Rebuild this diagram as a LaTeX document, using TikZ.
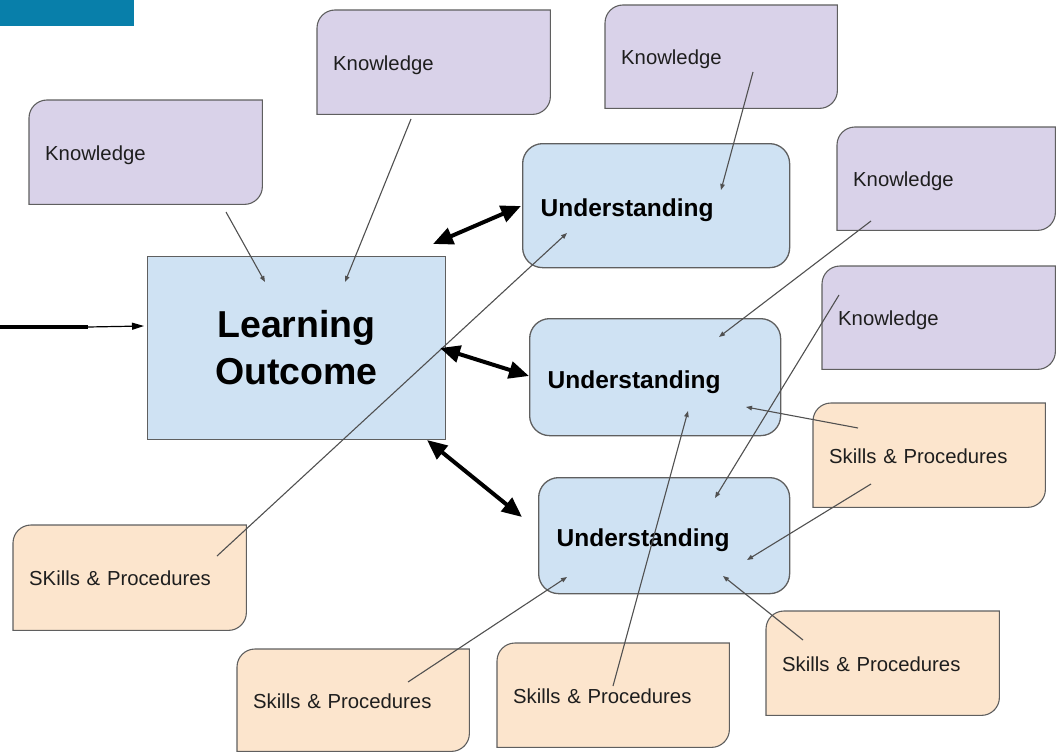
\documentclass[tikz,border=0pt]{standalone}
\usepackage{fontspec}
\setmainfont{Liberation Sans}
\usetikzlibrary{arrows.meta,backgrounds}

\definecolor{barblue}{RGB}{8,127,170}
\definecolor{knowfill}{HTML}{D9D2E9}
\definecolor{skillfill}{HTML}{FCE5CD}
\definecolor{underfill}{HTML}{CFE2F3}
\definecolor{edgegray}{HTML}{5F5F5F}
\definecolor{linkgray}{HTML}{505050}
\definecolor{inkdark}{HTML}{1E1E1E}

\tikzset{
  % note box: #1 = text width (box width minus 32bp), #2 = box height
  tagbox/.style 2 args={anchor=north west, text width=#1, minimum height=#2,
    inner xsep=16bp, inner ysep=0pt, align=left, text=inkdark,
    text height=16bp, text depth=0pt,
    font=\fontsize{20.3bp}{24bp}\selectfont},
  underbox/.style 2 args={anchor=north west, text width=#1, minimum height=#2,
    inner xsep=18bp, inner ysep=0pt, align=left, text=black,
    text height=22bp, text depth=0pt,
    rounded corners=20bp, draw=edgegray, fill=underfill, line width=1.3bp,
    font=\fontsize{24.5bp}{29bp}\selectfont\bfseries},
  outcomebox/.style={anchor=north west, minimum width=298bp, minimum height=183bp,
    inner sep=0pt, align=center, draw=edgegray, fill=underfill, line width=1.1bp,
    font=\fontsize{37.5bp}{47bp}\selectfont\bfseries},
  link/.style={draw=linkgray, line width=1.1bp, -{Triangle[length=6bp,width=4.5bp]}},
  biarrow/.style={draw=black, line width=4bp,
    {Triangle[length=20bp,width=17bp]}-{Triangle[length=20bp,width=17bp]}},
}

% note box outline: rounded top-left and bottom-right corners
\newcommand{\notebox}[2]{%
  \path[draw=edgegray, fill=#2, line width=1.1bp]
    ([yshift=-18bp]#1.north west) arc[start angle=180, end angle=90, radius=18bp]
    -- (#1.north east) -- ([yshift=18bp]#1.south east)
    arc[start angle=0, end angle=-90, radius=18bp]
    -- (#1.south west) -- cycle;}

\begin{document}
\begin{tikzpicture}[x=1bp, y=1bp]
\path[use as bounding box] (0,0) rectangle (1056,-752);

% header tab
\node[fill=barblue, anchor=north west, minimum width=134bp, minimum height=26bp,
      inner sep=0pt] (tab) at (0,0) {};

% knowledge notes
\node[tagbox={201bp}{104bp}] (k1) at (29,-100) {Knowledge};
\node[tagbox={201bp}{104bp}] (k2) at (317,-10) {Knowledge};
\node[tagbox={200bp}{103bp}] (k3) at (605,-5) {Knowledge};
\node[tagbox={186bp}{103bp}] (k4) at (837,-127) {Knowledge};
\node[tagbox={201bp}{103bp}] (k5) at (822,-266) {Knowledge};

% skills notes
\node[tagbox={201bp}{105bp}] (s1) at (13,-525) {SKills \& Procedures};
\node[tagbox={200bp}{104bp}] (s2) at (813,-403) {Skills \& Procedures};
\node[tagbox={200bp}{102bp}] (s3) at (237,-649) {Skills \& Procedures};
\node[tagbox={200bp}{104bp}] (s4) at (497,-643) {Skills \& Procedures};
\node[tagbox={201bp}{104bp}] (s5) at (766,-611) {Skills \& Procedures};

\begin{pgfonlayer}{background}
  \foreach \n in {k1,k2,k3,k4,k5} {\notebox{\n}{knowfill}}
  \foreach \n in {s1,s2,s3,s4,s5} {\notebox{\n}{skillfill}}
\end{pgfonlayer}

% central outcome and understanding boxes
\node[outcomebox] (lo) at (147,-256) {Learning\\Outcome};
\node[underbox={231bp}{124bp}] (u1) at (522,-143) {Understanding};
\node[underbox={215bp}{117bp}] (u2) at (529,-318) {Understanding};
\node[underbox={215bp}{116bp}] (u3) at (538,-477) {Understanding};

% connector end points
\coordinate (in0) at (0,-327);
\coordinate (in1) at (88,-327);
\coordinate (in2) at (144,-326);
\coordinate (a1s) at (433,-244); \coordinate (a1e) at (521,-206);
\coordinate (a2s) at (440,-348); \coordinate (a2e) at (529,-376);
\coordinate (a3s) at (427,-440); \coordinate (a3e) at (522,-517);

\coordinate (c1s) at (226,-212);  \coordinate (c1e) at (265,-282);
\coordinate (c2s) at (411,-119);  \coordinate (c2e) at (345,-282);
\coordinate (c3s) at (753,-72);   \coordinate (c3e) at (721,-190);
\coordinate (c4s) at (871,-221);  \coordinate (c4e) at (719,-337);
\coordinate (c5s) at (839,-295);  \coordinate (c5e) at (715,-498);
\coordinate (c6s) at (217,-556);  \coordinate (c6e) at (567,-233);
\coordinate (c7s) at (858,-428);  \coordinate (c7e) at (746,-407);
\coordinate (c8s) at (871,-484);  \coordinate (c8e) at (747,-560);
\coordinate (c9s) at (408,-682);  \coordinate (c9e) at (567,-577);
\coordinate (c10s) at (613,-686); \coordinate (c10e) at (688,-411);
\coordinate (c11s) at (803,-640); \coordinate (c11e) at (723,-576);

% incoming arrow on the left
\draw[line width=4bp] (in0) -- (in1);
\draw[line width=1.2bp, -{Triangle[length=12bp,width=7bp]}] (in1) -- (in2);

% thin links into the outcome and understanding boxes
\foreach \i in {1,...,11} {\draw[link] (c\i s) -- (c\i e);}

% two-way links between outcome and understandings
\draw[biarrow] (a1s) -- (a1e);
\draw[biarrow] (a2s) -- (a2e);
\draw[biarrow] (a3s) -- (a3e);
\end{tikzpicture}
\end{document}
